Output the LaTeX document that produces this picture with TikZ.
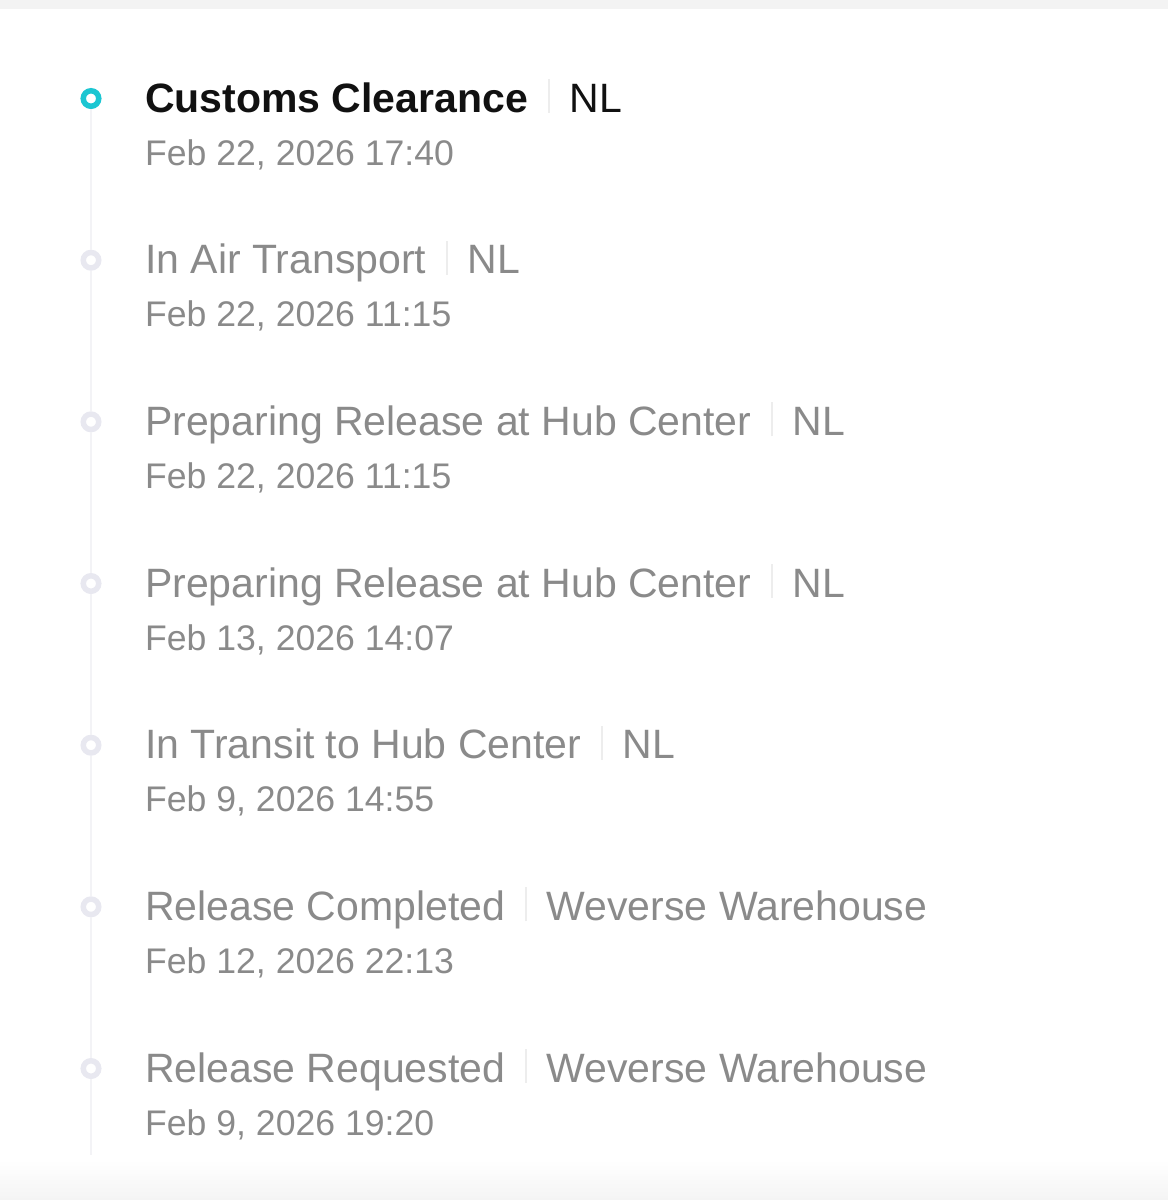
\documentclass[tikz,border=0pt]{standalone}
\usepackage{fontspec}
\setmainfont{Liberation Sans}
\usetikzlibrary{calc}
\definecolor{activecol}{HTML}{1CC6D2}
\definecolor{dotcol}{HTML}{E8E8F0}
\definecolor{trackcol}{HTML}{F3F3F6}
\definecolor{greytext}{HTML}{8A8A8A}
\definecolor{darktext}{HTML}{111111}
\definecolor{sepcol}{HTML}{EDEDED}
\definecolor{topbar}{HTML}{F3F3F3}
\tikzset{
  ttl/.style={inner sep=0pt, anchor=base west, text=greytext, font=\fontsize{41}{49}\selectfont},
  ttlact/.style={ttl, text=darktext, font=\fontsize{41}{49}\selectfont\bfseries},
  loc/.style={ttl},
  locact/.style={ttl, text=darktext},
  datetxt/.style={inner sep=0pt, anchor=base west, text=greytext, font=\fontsize{35.6}{43}\selectfont},
  dot/.style={circle, draw=dotcol, fill=white, line width=5.5pt, minimum size=15.5pt, inner sep=0pt},
  dotact/.style={dot, draw=activecol},
  track/.style={draw=trackcol, line width=2pt},
  sepbar/.style={draw=sepcol, line width=2pt}
}
\newcommand{\rowsep}[2]{\draw[sepbar] ($(#1.base east)!0.5!(#2.base west)+(0,1)$) -- ++(0,-34);}
\begin{document}
\begin{tikzpicture}[x=1pt,y=-1pt]
\useasboundingbox (0,0) rectangle (1168,1200);
\fill[topbar] (0,0) rectangle (1168,9);
\foreach \i in {0,...,19}{
  \pgfmathsetmacro\p{\i*0.22}
  \fill[black!\p] (0,1160+2*\i) rectangle (1168,1162.2+2*\i);
}
% track
\coordinate (trackend) at (91,1155);
% dots
\node[dotact] (c1) at (91,98.5) {};
\node[dot] (c2) at (91,260.2) {};
\node[dot] (c3) at (91,421.8) {};
\node[dot] (c4) at (91,583.5) {};
\node[dot] (c5) at (91,745.2) {};
\node[dot] (c6) at (91,906.8) {};
\node[dot] (c7) at (91,1068.5) {};
\draw[track] (c1) -- (c2);
\draw[track] (c2) -- (c3);
\draw[track] (c3) -- (c4);
\draw[track] (c4) -- (c5);
\draw[track] (c5) -- (c6);
\draw[track] (c6) -- (c7);
\draw[track] (c7) -- (trackend);
% row 1
\node[ttlact] (t1) at (145,112) {Customs Clearance};
\node[locact] (l1) at ($(t1.base east)+(41,0)$) {NL};
\rowsep{t1}{l1}
\node[datetxt] (d1) at (145,165) {Feb 22, 2026 17:40};
% row 2
\node[ttl] (t2) at (145,273.7) {In Air Transport};
\node[loc] (l2) at ($(t2.base east)+(41,0)$) {NL};
\rowsep{t2}{l2}
\node[datetxt] (d2) at (145,326.7) {Feb 22, 2026 11:15};
% row 3
\node[ttl] (t3) at (145,435.3) {Preparing Release at Hub Center};
\node[loc] (l3) at ($(t3.base east)+(41,0)$) {NL};
\rowsep{t3}{l3}
\node[datetxt] (d3) at (145,488.3) {Feb 22, 2026 11:15};
% row 4
\node[ttl] (t4) at (145,597) {Preparing Release at Hub Center};
\node[loc] (l4) at ($(t4.base east)+(41,0)$) {NL};
\rowsep{t4}{l4}
\node[datetxt] (d4) at (145,650) {Feb 13, 2026 14:07};
% row 5
\node[ttl] (t5) at (145,758.7) {In Transit to Hub Center};
\node[loc] (l5) at ($(t5.base east)+(41,0)$) {NL};
\rowsep{t5}{l5}
\node[datetxt] (d5) at (145,811.7) {Feb 9, 2026 14:55};
% row 6
\node[ttl] (t6) at (145,920.3) {Release Completed};
\node[loc] (l6) at ($(t6.base east)+(41,0)$) {Weverse Warehouse};
\rowsep{t6}{l6}
\node[datetxt] (d6) at (145,973.3) {Feb 12, 2026 22:13};
% row 7
\node[ttl] (t7) at (145,1082) {Release Requested};
\node[loc] (l7) at ($(t7.base east)+(41,0)$) {Weverse Warehouse};
\rowsep{t7}{l7}
\node[datetxt] (d7) at (145,1135) {Feb 9, 2026 19:20};
\end{tikzpicture}
\end{document}
